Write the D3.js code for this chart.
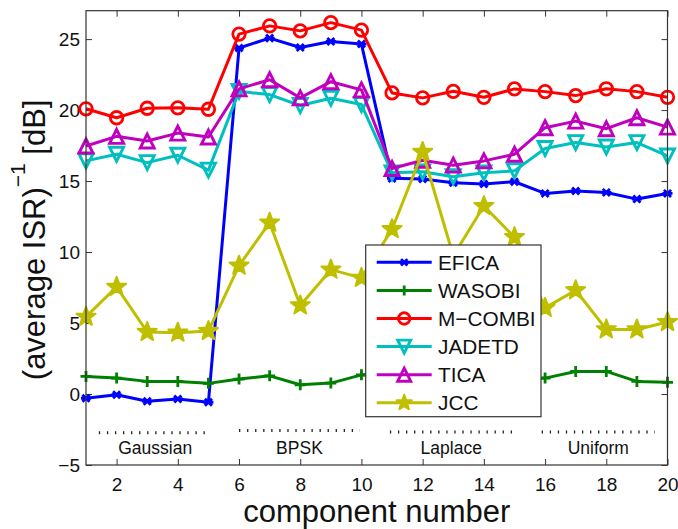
<!DOCTYPE html>
<html><head><meta charset="utf-8">
<script src="https://cdn.jsdelivr.net/npm/d3@7"></script>
<style>
body{margin:0;background:#fff}
svg{display:block}
text{font-family:"Liberation Sans",Arial,Helvetica,sans-serif;fill:#111}
</style>
</head><body>
<svg id="chart" width="678" height="529"></svg>
<script>
// ---------------- data ----------------
const components = [1,2,3,4,5,6,7,8,9,10,11,12,13,14,15,16,17,18,19,20];
const seriesNames = ["EFICA","WASOBI","M\u2212COMBI","JADETD","TICA","JCC"];
const efica  = [-0.30,-0.05,-0.51,-0.35,-0.58,24.37,25.07,24.41,24.83,24.65,15.19,15.14,14.88,14.79,14.95,14.13,14.30,14.20,13.73,14.13];
const wasobi = [1.24,1.12,0.89,0.89,0.75,1.05,1.28,0.65,0.77,1.35,1.30,1.00,1.20,0.90,1.10,1.12,1.59,1.59,0.89,0.82];
const mcombi = [20.09,19.46,20.13,20.16,20.06,25.35,25.93,25.58,26.16,25.63,21.21,20.86,21.32,20.90,21.49,21.30,21.02,21.50,21.30,20.90];
const jadetd = [16.42,16.89,16.30,16.82,15.77,21.32,21.09,20.32,20.83,20.39,15.58,15.65,15.30,15.58,15.72,17.29,17.71,17.40,17.71,16.77];
const tica   = [17.47,18.15,17.82,18.38,18.10,21.49,22.14,20.86,22.00,21.42,15.89,16.47,16.12,16.42,16.89,18.76,19.22,18.69,19.46,18.80];
const jcc    = [5.44,7.55,4.37,4.32,4.44,9.04,12.07,6.24,8.76,8.18,11.61,17.05,9.74,13.24,11.05,6.07,7.31,4.55,4.55,5.07];
const xTicks = [2,4,6,8,10,12,14,16,18,20];
const yTicks = [-5,0,5,10,15,20,25];
const groupNames = ["Gaussian","BPSK","Laplace","Uniform"];

// ---------------- layout / style ----------------
const W = 678, H = 529;
const plot = {left:86, right:667.5, top:10.7, bottom:465};
const colors = ["#0000ff","#008000","#ff0000","#00bfbf","#bf00bf","#bfbf00"];
const markers = ["asterisk","plus","circle","tridown","triup","star"];
const groupStart = [1.42, 6.00, 10.93, 15.89];
const groupEnd   = [5.10, 9.95, 14.94, 19.59];
const groupLineY = [-2.73, -2.57, -2.67, -2.67];
const groupTextY = -4.2;

const svg = d3.select("#chart");
svg.append("rect").attr("width",W).attr("height",H).attr("fill","#fff");

const x = d3.scaleLinear().domain([1,20]).range([plot.left, plot.right]);
const y = d3.scaleLinear().domain([-5,27]).range([plot.bottom, plot.top]);

// axes (MATLAB style: inward ticks on all sides)
const tk = 6;
const axB = svg.append("g").attr("transform",`translate(0,${plot.bottom})`)
  .call(d3.axisBottom(x).tickValues(xTicks).tickSizeInner(-tk).tickSizeOuter(0).tickPadding(13));
const axT = svg.append("g").attr("transform",`translate(0,${plot.top})`)
  .call(d3.axisTop(x).tickValues(xTicks).tickSizeInner(-tk).tickSizeOuter(0).tickFormat(""));
const axL = svg.append("g").attr("transform",`translate(${plot.left},0)`)
  .call(d3.axisLeft(y).tickValues(yTicks).tickSizeInner(-tk).tickSizeOuter(0).tickPadding(6));
const axR = svg.append("g").attr("transform",`translate(${plot.right},0)`)
  .call(d3.axisRight(y).tickValues(yTicks).tickSizeInner(-tk).tickSizeOuter(0).tickFormat(""));
[axB,axT,axL,axR].forEach(a=>{
  a.select(".domain").remove();
  a.selectAll(".tick line").attr("stroke","#333").attr("stroke-width",1);
  a.selectAll(".tick text").attr("font-size","19px").attr("fill","#111")
   .style("font-family",'"Liberation Sans",Arial,sans-serif');
});

// group annotations
const ann = svg.append("g");
groupNames.forEach((nm,i)=>{
  ann.append("line")
    .attr("x1",x(groupStart[i])).attr("x2",x(groupEnd[i]))
    .attr("y1",y(groupLineY[i])).attr("y2",y(groupLineY[i]))
    .attr("stroke","#222").attr("stroke-width",3).attr("stroke-dasharray","1.3,6.75");
  ann.append("text")
    .attr("x",x((groupStart[i]+groupEnd[i])/2)).attr("y",y(groupTextY))
    .attr("text-anchor","middle").attr("font-size","17.5px").text(nm);
});

// marker drawing
function drawMarker(g, type, cx, cy, s, color){
  const m = g.append("g").attr("transform",`translate(${cx},${cy})`);
  if(type==="circle"){
    m.append("circle").attr("r",s*0.5).attr("fill","none").attr("stroke",color).attr("stroke-width",2.8);
  } else if(type==="plus"){
    m.append("path").attr("d",`M${-s/2},0H${s/2}M0,${-s/2}V${s/2}`).attr("stroke",color).attr("stroke-width",2.8).attr("fill","none");
  } else if(type==="asterisk"){
    const r = s/2, d = r*0.7071;
    m.append("path").attr("d",`M${-r},0H${r}M${-d},${-d}L${d},${d}M${-d},${d}L${d},${-d}`)
      .attr("stroke",color).attr("stroke-width",2.8).attr("fill","none");
  } else if(type==="triup" || type==="tridown"){
    const h = s/2, sg = type==="triup"?1:-1;
    m.append("path").attr("d",`M0,${-sg*h}L${h},${sg*h}L${-h},${sg*h}Z`)
      .attr("stroke",color).attr("stroke-width",2.9).attr("fill","none").attr("stroke-linejoin","miter");
  } else if(type==="star"){
    const R = s/2, r = R*0.42;
    const pts = d3.range(10).map(k=>{
      const a = -Math.PI/2 + k*Math.PI/5, rr = k%2?r:R;
      return [rr*Math.cos(a), rr*Math.sin(a)];
    });
    m.append("path").attr("d","M"+pts.map(p=>p.join(",")).join("L")+"Z")
      .attr("fill",color).attr("stroke",color).attr("stroke-width",2).attr("stroke-linejoin","round");
  }
}

const seriesData = [efica, wasobi, mcombi, jadetd, tica, jcc];
const markerSize = [10, 11, 12.5, 14, 14, 20];
const line = d3.line().x((d,i)=>x(components[i])).y(d=>y(d));
const plotG = svg.append("g");
seriesData.forEach((vals,si)=>{
  const g = plotG.append("g");
  g.append("path").datum(vals).attr("d",line).attr("fill","none")
    .attr("stroke",colors[si]).attr("stroke-width",3).attr("stroke-linejoin","round");
  vals.forEach((v,i)=> drawMarker(g, markers[si], x(components[i]), y(v), markerSize[si], colors[si]));
});

// frame
svg.append("rect").attr("x",plot.left).attr("y",plot.top)
  .attr("width",plot.right-plot.left).attr("height",plot.bottom-plot.top)
  .attr("fill","none").attr("stroke","#333").attr("stroke-width",1.2);

// legend
const lg = {x:365.7, y:245, w:175.3, h:171.7, row0:262.3, dy:28.1, l1:376.7, l2:431.7, tx:438};
const leg = svg.append("g");
leg.append("rect").attr("x",lg.x).attr("y",lg.y).attr("width",lg.w).attr("height",lg.h)
  .attr("fill","#fff").attr("stroke","#333").attr("stroke-width",1.2);
const legMarker = [9, 10, 11.5, 13, 13, 16];
seriesNames.forEach((nm,i)=>{
  const yy = lg.row0 + i*lg.dy;
  leg.append("line").attr("x1",lg.l1).attr("x2",lg.l2).attr("y1",yy).attr("y2",yy)
    .attr("stroke",colors[i]).attr("stroke-width",3);
  drawMarker(leg, markers[i], (lg.l1+lg.l2)/2, yy, legMarker[i], colors[i]);
  leg.append("text").attr("x",lg.tx).attr("y",yy).attr("dy","0.36em")
    .attr("font-size","20.8px").text(nm);
});

// axis titles
svg.append("text").attr("x",(plot.left+plot.right)/2).attr("y",522)
  .attr("text-anchor","middle").attr("font-size","31px").text("component number");
const yt = svg.append("text").attr("transform",`translate(45,${(plot.top+plot.bottom)/2+2}) rotate(-90)`)
  .attr("text-anchor","middle").attr("font-size","31px");
yt.append("tspan").text("(average ISR)");
yt.append("tspan").attr("font-size","21px").attr("dy","-0.95em").text("\u22121");
yt.append("tspan").attr("dy","0.65em").text(" [dB]");
</script>
</body></html>
